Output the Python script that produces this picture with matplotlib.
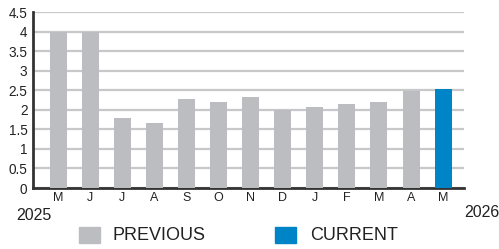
import matplotlib
matplotlib.use("Agg")
import matplotlib.pyplot as plt
import matplotlib.patches as mpatches

months = ["M", "J", "J", "A", "S", "O", "N", "D", "J", "F", "M", "A", "M"]
values = [4.0, 4.0, 1.79, 1.66, 2.28, 2.2, 2.33, 1.99, 2.07, 2.15, 2.2, 2.48, 2.53]
is_current = [False] * 12 + [True]
yticks = [0, 0.5, 1, 1.5, 2, 2.5, 3, 3.5, 4, 4.5]
ytick_labels = ["0", "0.5", "1", "1.5", "2", "2.5", "3", "3.5", "4", "4.5"]
start_year = "2025"
end_year = "2026"
legend_labels = ["PREVIOUS", "CURRENT"]

GREY = "#bcbdc0"
BLUE = "#0084c8"

plt.rcParams['font.family'] = ['Liberation Sans', 'DejaVu Sans']

fig = plt.figure(figsize=(4.99, 2.49), dpi=100)
ax = fig.add_axes([33 / 499, 1 - 188 / 249, (464 - 33) / 499, (188 - 12) / 249])

colors = [BLUE if c else GREY for c in is_current]
x = list(range(len(months)))
ax.bar(x, values, width=0.53, color=colors, zorder=3)

ax.set_ylim(0, 4.5)
ax.set_xlim(-0.78, 12.65)
ax.set_yticks(yticks)
ax.set_yticklabels(ytick_labels, fontsize=9.8, color="#222222")
ax.set_xticks(x)
ax.set_xticklabels(months, fontsize=9, color="#222222")
ax.tick_params(axis="both", length=0, pad=3)
ax.tick_params(axis="y", pad=4)
ax.grid(axis="y", color="#c8c8ca", linewidth=1.6, zorder=0)

for s in ["top", "right"]:
    ax.spines[s].set_visible(False)
ax.spines["left"].set_linewidth(2)
ax.spines["bottom"].set_linewidth(2)
ax.spines["left"].set_color("#333333")
ax.spines["bottom"].set_color("#333333")

fig.text(16 / 499, 1 - 215 / 249, start_year, fontsize=11.5, va="center", ha="left", color="#222222")
fig.text(464 / 499, 1 - 212 / 249, end_year, fontsize=11.5, va="center", ha="left", color="#222222")

fig.patches.append(mpatches.Rectangle((79 / 499, 1 - 243 / 249), 21 / 499, 16 / 249,
                                      transform=fig.transFigure, color=GREY))
fig.text(112 / 499, 1 - 235 / 249, legend_labels[0], fontsize=13, va="center", ha="left", color="#222222")
fig.patches.append(mpatches.Rectangle((275 / 499, 1 - 243 / 249), 21 / 499, 16 / 249,
                                      transform=fig.transFigure, color=BLUE))
fig.text(310 / 499, 1 - 235 / 249, legend_labels[1], fontsize=13, va="center", ha="left", color="#222222")

fig.savefig("out.png", dpi=100)
